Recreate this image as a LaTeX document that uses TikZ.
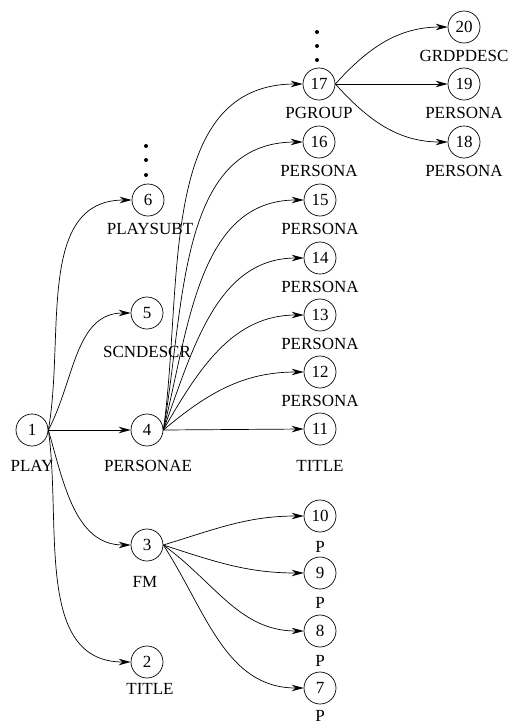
\documentclass[tikz,border=0pt]{standalone}
\usepackage{fontspec}
\setmainfont{Liberation Serif}
\usetikzlibrary{arrows.meta}
\tikzset{
  elem/.style={draw, circle, minimum size=32pt, inner sep=0pt, font=\fontsize{17}{20}\selectfont},
  tag/.style={inner sep=0pt, font=\fontsize{17}{20}\selectfont},
  arr/.style={-{Stealth[length=12pt,width=6.5pt]}},
}
\begin{document}
\begin{tikzpicture}[x=1pt,y=-1pt,line width=0.7pt]
\useasboundingbox (0,0) rectangle (521,724);
% tree nodes
\node[elem] (n1) at (32,430) {1};
\node[elem] (n2) at (147,662) {2};
\node[elem] (n3) at (147,545) {3};
\node[elem] (n4) at (147,430) {4};
\node[elem] (n5) at (147,313) {5};
\node[elem] (n6) at (148,200) {6};
\node[elem] (n7) at (320,688) {7};
\node[elem] (n8) at (320,631) {8};
\node[elem] (n9) at (320,573) {9};
\node[elem] (n10) at (320,516) {10};
\node[elem] (n11) at (320,429) {11};
\node[elem] (n12) at (320,372) {12};
\node[elem] (n13) at (320,315) {13};
\node[elem] (n14) at (320,258) {14};
\node[elem] (n15) at (320,200) {15};
\node[elem] (n16) at (319,142) {16};
\node[elem] (n17) at (319,84) {17};
\node[elem] (n18) at (464,142) {18};
\node[elem] (n19) at (464,84) {19};
\node[elem] (n20) at (464,27) {20};
% labels
\node[tag] (t1) at (32,466) {PLAY};
\node[tag] (t2) at (150,689) {TITLE};
\node[tag] (t3) at (145,582) {FM};
\node[tag] (t4) at (148,466) {PERSONAE};
\node[tag] (t5) at (147,352) {SCNDESCR};
\node[tag] (t6) at (150,229) {PLAYSUBT};
\node[tag] (t7) at (320,716) {P};
\node[tag] (t8) at (320,661) {P};
\node[tag] (t9) at (320,603) {P};
\node[tag] (t10) at (320,547) {P};
\node[tag] (t11) at (320,466) {TITLE};
\node[tag] (t12) at (320,401) {PERSONA};
\node[tag] (t13) at (320,344) {PERSONA};
\node[tag] (t14) at (320,287) {PERSONA};
\node[tag] (t15) at (320,229) {PERSONA};
\node[tag] (t16) at (319,171) {PERSONA};
\node[tag] (t17) at (319,113) {PGROUP};
\node[tag] (t18) at (464,171) {PERSONA};
\node[tag] (t19) at (464,113) {PERSONA};
\node[tag] (t20) at (464,56) {GRDPDESC};
% dots
\foreach \y in {146,160,175} \fill (146,\y) circle (2pt);
\foreach \y in {32,46,60} \fill (317,\y) circle (2pt);
% edges from 1
\draw[arr] (n1.east) to[out=80,in=180] (n6.west);
\draw[arr] (n1.east) to[out=62,in=180] (n5.west);
\draw[arr] (n1.east) -- (n4.west);
\draw[arr] (n1.east) to[out=-74,in=180] (n3.west);
\draw[arr] (n1.east) to[out=-82,in=180] (n2.west);
% edges from 4
\draw[arr] (n4.east) to[out=82,in=180] (n17.west);
\draw[arr] (n4.east) to[out=80,in=180] (n16.west);
\draw[arr] (n4.east) to[out=76,in=180] (n15.west);
\draw[arr] (n4.east) to[out=70,in=180] (n14.west);
\draw[arr] (n4.east) to[out=60,in=180] (n13.west);
\draw[arr] (n4.east) to[out=40,in=180] (n12.west);
\draw[arr] (n4.east) -- (n11.west);
% edges from 3
\draw[arr] (n3.east) to[out=17,in=180] (n10.west);
\draw[arr] (n3.east) to[out=-18,in=180] (n9.west);
\draw[arr] (n3.east) to[out=-36,in=180] (n8.west);
\draw[arr] (n3.east) to[out=-57,in=180] (n7.west);
% edges from 17
\draw[arr] (n17.east) to[out=48,in=180] (n20.west);
\draw[arr] (n17.east) -- (n19.west);
\draw[arr] (n17.east) to[out=-48,in=180] (n18.west);
\end{tikzpicture}
\end{document}
